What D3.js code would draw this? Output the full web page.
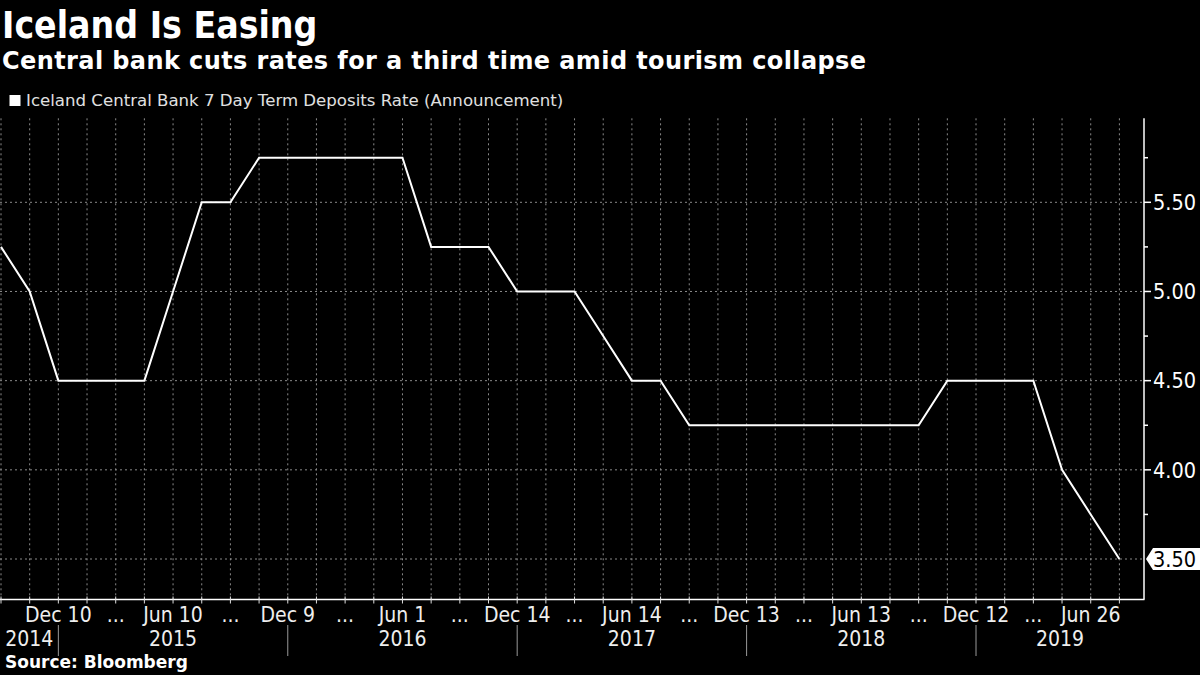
<!DOCTYPE html>
<html>
<head>
<meta charset="utf-8">
<script src="https://cdn.jsdelivr.net/npm/d3@7"></script>
<style>
  html, body { margin: 0; padding: 0; background: #000; }
  svg { display: block; }
</style>
</head>
<body>
<svg id="chart" width="1200" height="675"></svg>
<script>
// ---------------- data ----------------
const dates = ["2014-10-01","2014-11-05","2014-12-10",
  "2015-02-04","2015-03-18","2015-05-20","2015-06-10","2015-08-19","2015-09-30","2015-11-04","2015-12-09",
  "2016-02-03","2016-03-16","2016-05-11","2016-06-01","2016-08-24","2016-10-05","2016-11-16","2016-12-14",
  "2017-02-08","2017-03-15","2017-05-17","2017-06-14","2017-08-23","2017-10-04","2017-11-22","2017-12-13",
  "2018-02-07","2018-03-21","2018-05-16","2018-06-13","2018-08-29","2018-10-03","2018-11-07","2018-12-12",
  "2019-02-06","2019-03-13","2019-05-22","2019-06-26","2019-08-28"];
const rates = [5.25,5.00,4.50,
  4.50,4.50,4.50,5.00,5.50,5.50,5.75,5.75,
  5.75,5.75,5.75,5.75,5.25,5.25,5.25,5.00,
  5.00,5.00,4.75,4.50,4.50,4.25,4.25,4.25,
  4.25,4.25,4.25,4.25,4.25,4.25,4.50,4.50,
  4.50,4.50,4.00,3.75,3.50];
const tickDates = ["2014-12-10","2015-03-18","2015-06-10","2015-09-30","2015-12-09","2016-03-16","2016-06-01",
  "2016-10-05","2016-12-14","2017-03-15","2017-06-14","2017-10-04","2017-12-13","2018-03-21","2018-06-13",
  "2018-10-03","2018-12-12","2019-03-13","2019-06-26"];
const tickLabels = ["Dec 10","...","Jun 10","...","Dec 9","...","Jun 1","...","Dec 14","...","Jun 14","...",
  "Dec 13","...","Jun 13","...","Dec 12","...","Jun 26"];
const yearLabels = ["2014","2015","2016","2017","2018","2019"];
const yMajorTicks = [4.00, 4.50, 5.00, 5.50];
const yMinorTicks = [3.75, 4.25, 4.75, 5.25, 5.75];
const yGridValues = [3.50, 4.00, 4.50, 5.00, 5.50];

const title = "Iceland Is Easing";
const subtitle = "Central bank cuts rates for a third time amid tourism collapse";
const legendLabel = "Iceland Central Bank 7 Day Term Deposits Rate (Announcement)";
const source = "Source: Bloomberg";

// ---------------- layout ----------------
const W = 1200, H = 675;
const plot = { left: 0, right: 1144, top: 118.3, bottom: 599.5 };
const axisFont = "'DejaVu Sans Condensed', 'DejaVu Sans', sans-serif";

const svg = d3.select("#chart");
svg.append("rect").attr("width", W).attr("height", H).attr("fill", "#000");

const x = d3.scalePoint().domain(dates).range([1, 1119.4]);
const y = d3.scaleLinear().domain([3.273, 5.971]).range([plot.bottom, plot.top]);

// titles
svg.append("text").attr("x", 2).attr("y", 37.5)
  .attr("font-family", "'DejaVu Sans Condensed', 'DejaVu Sans', sans-serif")
  .attr("font-weight", "bold").attr("font-size", 37).attr("fill", "#fff").text(title);
svg.append("text").attr("x", 2).attr("y", 69)
  .attr("font-family", "'DejaVu Sans', sans-serif")
  .attr("font-weight", "bold").attr("font-size", 24).attr("letter-spacing", 0.4)
  .attr("fill", "#fff").text(subtitle);

// legend
svg.append("rect").attr("x", 9.5).attr("y", 95).attr("width", 11).attr("height", 11).attr("fill", "#fff");
svg.append("text").attr("x", 26).attr("y", 106)
  .attr("font-family", "'DejaVu Sans', sans-serif").attr("font-size", 16.6)
  .attr("fill", "#e0e0e0").text(legendLabel);

// gridlines
const grid = svg.append("g");
grid.selectAll("line.v").data(dates).join("line")
  .attr("class", "v")
  .attr("x1", d => x(d)).attr("x2", d => x(d))
  .attr("y1", plot.top).attr("y2", plot.bottom)
  .attr("stroke", "#8a8a8a").attr("stroke-width", 1).attr("stroke-dasharray", "2,3");
grid.selectAll("line.h").data(yGridValues).join("line")
  .attr("class", "h")
  .attr("x1", plot.left).attr("x2", plot.right)
  .attr("y1", d => y(d)).attr("y2", d => y(d))
  .attr("stroke", "#8a8a8a").attr("stroke-width", 1).attr("stroke-dasharray", "2,3");

// axes lines
svg.append("line").attr("x1", plot.left).attr("x2", plot.right + 0.5)
  .attr("y1", plot.bottom).attr("y2", plot.bottom).attr("stroke", "#fff").attr("stroke-width", 1.5);
svg.append("line").attr("x1", plot.right).attr("x2", plot.right)
  .attr("y1", plot.top).attr("y2", plot.bottom).attr("stroke", "#fff").attr("stroke-width", 1.5);

// x ticks (small marks at every observation)
svg.append("g").selectAll("line").data(dates).join("line")
  .attr("x1", d => x(d)).attr("x2", d => x(d))
  .attr("y1", plot.bottom - 3).attr("y2", plot.bottom + 4)
  .attr("stroke", "#ddd").attr("stroke-width", 1);

// x tick labels
svg.append("g").selectAll("text").data(tickDates).join("text")
  .attr("x", d => x(d)).attr("y", 621.5)
  .attr("text-anchor", "middle")
  .attr("font-family", axisFont).attr("font-size", 21).attr("fill", "#eee")
  .text((d, i) => tickLabels[i]);

// year separators & labels
const yearOf = d => d.slice(0, 4);
const years = yearLabels.map(yr => {
  const ds = dates.filter(d => yearOf(d) === yr);
  return { yr, first: ds[0], last: ds[ds.length - 1] };
});
const sepXs = years.slice(0, -1).map(o => x(o.last));
svg.append("g").selectAll("line").data(sepXs).join("line")
  .attr("x1", d => d).attr("x2", d => d)
  .attr("y1", 625).attr("y2", 656)
  .attr("stroke", "#999").attr("stroke-width", 1);
const yearG = svg.append("g");
years.forEach((o, i) => {
  const start = i === 0 ? plot.left : sepXs[i - 1];
  const end = i === years.length - 1 ? plot.right : sepXs[i];
  const t = yearG.append("text")
    .attr("y", 645.5)
    .attr("font-family", axisFont).attr("font-size", 21).attr("fill", "#eee")
    .attr("text-anchor", "middle").text(o.yr);
  const w = t.node().getComputedTextLength();
  t.attr("x", Math.max((start + end) / 2, start + w / 2));
});

// right y axis ticks and labels
svg.append("g").selectAll("line").data(yMajorTicks).join("line")
  .attr("x1", plot.right).attr("x2", plot.right + 7)
  .attr("y1", d => y(d)).attr("y2", d => y(d))
  .attr("stroke", "#fff").attr("stroke-width", 1.5);
svg.append("g").selectAll("line").data(yMinorTicks).join("line")
  .attr("x1", plot.right).attr("x2", plot.right + 4)
  .attr("y1", d => y(d)).attr("y2", d => y(d))
  .attr("stroke", "#fff").attr("stroke-width", 1.5);
svg.append("g").selectAll("text").data(yMajorTicks).join("text")
  .attr("x", plot.right + 9).attr("y", d => y(d)).attr("dy", "0.36em")
  .attr("font-family", axisFont).attr("font-size", 21.5).attr("fill", "#fff")
  .text(d => d3.format(".2f")(d));

// line
const line = d3.line().x((d, i) => x(dates[i])).y(d => y(d));
svg.append("path").datum(rates)
  .attr("d", line).attr("fill", "none")
  .attr("stroke", "#fff").attr("stroke-width", 2).attr("stroke-linejoin", "miter");

// last value tag
const lastVal = rates[rates.length - 1];
const ly = y(lastVal);
const tag = svg.append("g");
tag.append("path")
  .attr("d", `M${plot.right + 2},${ly} L${plot.right + 9},${ly - 11} L${W},${ly - 11} L${W},${ly + 11} L${plot.right + 9},${ly + 11} Z`)
  .attr("fill", "#fff");
tag.append("text").attr("x", plot.right + 9).attr("y", ly).attr("dy", "0.36em")
  .attr("font-family", axisFont).attr("font-size", 21.5).attr("fill", "#000")
  .text(d3.format(".2f")(lastVal));

// source
svg.append("text").attr("x", 5).attr("y", 668)
  .attr("font-family", "'DejaVu Sans', sans-serif").attr("font-weight", "bold")
  .attr("font-size", 17).attr("fill", "#fff").text(source);
</script>
</body>
</html>
